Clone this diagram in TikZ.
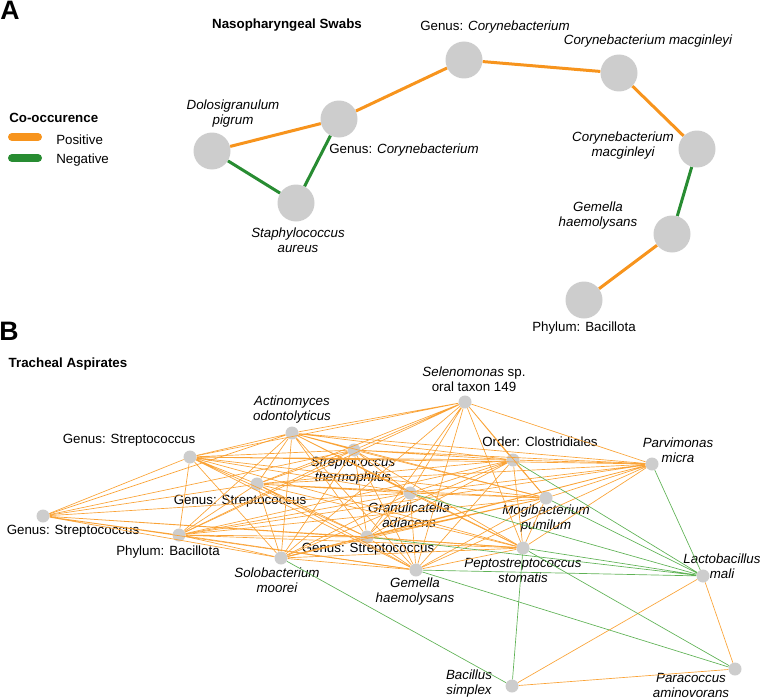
\documentclass[tikz,border=0pt]{standalone}
\usepackage{fontspec}
\setmainfont{Liberation Sans}
\definecolor{orA}{RGB}{247,148,29}
\definecolor{grA}{RGB}{40,140,50}
\definecolor{orB}{RGB}{250,163,55}
\definecolor{grB}{RGB}{95,178,85}
\definecolor{dotgray}{RGB}{205,205,205}
\tikzset{
  bigdot/.style={circle, fill=dotgray, minimum size=27.75pt, inner sep=0pt},
  smalldot/.style={circle, fill=dotgray, minimum size=9.75pt, inner sep=0pt},
  lab/.style={font=\fontsize{10}{11.25}\selectfont\itshape, align=center, inner sep=0pt},
  labr/.style={font=\fontsize{10}{11.25}\selectfont, align=center, inner sep=0pt},
  ttl/.style={font=\fontsize{10}{12}\selectfont\bfseries, inner sep=0pt},
  panel/.style={font=\fontsize{20}{20}\selectfont\bfseries, inner sep=0pt},
  posA/.style={draw=orA, line width=2.25pt},
  negA/.style={draw=grA, line width=2.25pt},
  posB/.style={draw=orB, line width=0.5pt},
  negB/.style={draw=grB, line width=0.5pt}
}
\begin{document}
\begin{tikzpicture}[x=0.75pt, y=-0.75pt]
\useasboundingbox (0,0) rectangle (760,699);

% panel A
\node[panel] (pa) at (10,10) {A};
\node[ttl] (tA) at (287,25) {Nasopharyngeal Swabs};
\node[ttl, anchor=west] (leg) at (9,118) {Co-occurence};
\coordinate (lp1) at (12,137);
\coordinate (lp2) at (38,137);
\coordinate (ln1) at (12,158);
\coordinate (ln2) at (38,158);
\draw[orA, line width=6pt, line cap=round] (lp1) -- (lp2);
\draw[grA, line width=6pt, line cap=round] (ln1) -- (ln2);
\node[labr, anchor=west] (lpos) at (56,140) {Positive};
\node[labr, anchor=west] (lneg) at (56,160) {Negative};

\node[bigdot] (dol) at (212,151) {};
\node[bigdot] (cor1) at (339,119) {};
\node[bigdot] (sta) at (296,203) {};
\node[bigdot] (cor2) at (464,60) {};
\node[bigdot] (mac1) at (619,73) {};
\node[bigdot] (mac2) at (697,149) {};
\node[bigdot] (gemA) at (672,234) {};
\node[bigdot] (bacA) at (584,300) {};

\node[lab] (ldol) at (233,114) {Dolosigranulum\\pigrum};
\node[labr, anchor=west] (lcor1) at (329,150) {Genus: \textit{Corynebacterium}};
\node[lab] (lsta) at (298,240) {Staphylococcus\\aureus};
\node[labr] (lcor2) at (495,27) {Genus: \textit{Corynebacterium}};
\node[lab] (lmac1) at (648,41) {Corynebacterium macginleyi};
\node[lab] (lmac2) at (623,146) {Corynebacterium\\macginleyi};
\node[lab] (lgemA) at (598,216) {Gemella\\haemolysans};
\node[labr] (lbacA) at (584,328) {Phylum: Bacillota};

\path[posA] (dol) -- (cor1);
\path[negA] (dol) -- (sta);
\path[negA] (sta) -- (cor1);
\path[posA] (cor1) -- (cor2);
\path[posA] (cor2) -- (mac1);
\path[posA] (mac1) -- (mac2);
\path[negA] (mac2) -- (gemA);
\path[posA] (gemA) -- (bacA);

% panel B
\node[panel] (pb) at (9,331) {B};
\node[ttl] (tB) at (68,364) {Tracheal Aspirates};

\node[smalldot] (sel) at (465,402) {};
\node[smalldot] (act) at (292,433) {};
\node[smalldot] (gs1) at (190,457) {};
\node[smalldot] (sth) at (354,450) {};
\node[smalldot] (clo) at (513,460) {};
\node[smalldot] (par) at (652,464) {};
\node[smalldot] (gs2) at (257,484) {};
\node[smalldot] (gra) at (410,493) {};
\node[smalldot] (mog) at (546,498) {};
\node[smalldot] (gs3) at (43,516) {};
\node[smalldot] (bac) at (179,535) {};
\node[smalldot] (gs4) at (367,537) {};
\node[smalldot] (sol) at (281,558) {};
\node[smalldot] (pep) at (523,548) {};
\node[smalldot] (gem) at (416,570) {};
\node[smalldot] (lac) at (703,576) {};
\node[smalldot] (pco) at (735,669) {};
\node[smalldot] (bsi) at (512,686) {};

\node[labr] (lsel) at (474,379) {\textit{Selenomonas} sp.\\oral taxon 149};
\node[lab] (lact) at (292,410) {Actinomyces\\odontolyticus};
\node[labr] (lgs1) at (129,440) {Genus: Streptococcus};
\node[lab] (lsth) at (353,471) {Streptococcus\\thermophilus};
\node[labr] (lclo) at (540,442) {Order: Clostridiales};
\node[lab] (lpar) at (678,450) {Parvimonas\\micra};
\node[labr] (lgs2) at (240,501) {Genus: Streptococcus};
\node[lab] (lgra) at (409,515) {Granulicatella\\adiacens};
\node[lab] (lmog) at (546,519) {Mogibacterium\\pumilum};
\node[labr] (lgs3) at (73,531) {Genus: Streptococcus};
\node[labr] (lbac) at (168,552) {Phylum: Bacillota};
\node[labr] (lgs4) at (368,549) {Genus: Streptococcus};
\node[lab] (lsol) at (277,580) {Solobacterium\\moorei};
\node[lab] (lpep) at (523,570) {Peptostreptococcus\\stomatis};
\node[lab] (lgem) at (415,592) {Gemella\\haemolysans};
\node[lab] (llac) at (722,566) {Lactobacillus\\mali};
\node[lab] (lpco) at (691,685) {Paracoccus\\aminovorans};
\node[lab] (lbsi) at (469,684) {Bacillus\\simplex};

% positive links
\path[posB] (sel) -- (act) (sel) -- (gs1) (sel) -- (sth) (sel) -- (clo) (sel) -- (par)
  (sel) -- (gs2) (sel) -- (gra) (sel) -- (mog) (sel) -- (bac) (sel) -- (gs4)
  (sel) -- (sol) (sel) -- (pep) (sel) -- (gem);
\path[posB] (act) -- (gs1) (act) -- (sth) (act) -- (clo) (act) -- (par) (act) -- (gs2)
  (act) -- (gra) (act) -- (mog) (act) -- (gs3) (act) -- (bac) (act) -- (gs4)
  (act) -- (sol) (act) -- (pep) (act) -- (gem);
\path[posB] (gs1) -- (sth) (gs1) -- (clo) (gs1) -- (par) (gs1) -- (gs2) (gs1) -- (gra)
  (gs1) -- (mog) (gs1) -- (gs3) (gs1) -- (bac) (gs1) -- (gs4) (gs1) -- (sol)
  (gs1) -- (pep) (gs1) -- (gem);
\path[posB] (sth) -- (clo) (sth) -- (par) (sth) -- (gs2) (sth) -- (gra) (sth) -- (mog)
  (sth) -- (gs3) (sth) -- (bac) (sth) -- (gs4) (sth) -- (sol) (sth) -- (pep)
  (sth) -- (gem);
\path[posB] (clo) -- (par) (clo) -- (gs2) (clo) -- (gra) (clo) -- (mog) (clo) -- (bac)
  (clo) -- (gs4) (clo) -- (sol) (clo) -- (pep) (clo) -- (gem);
\path[posB] (par) -- (gs2) (par) -- (gra) (par) -- (mog) (par) -- (bac) (par) -- (gs4)
  (par) -- (sol) (par) -- (pep) (par) -- (gem);
\path[posB] (gs2) -- (gra) (gs2) -- (mog) (gs2) -- (gs3) (gs2) -- (bac) (gs2) -- (gs4)
  (gs2) -- (sol) (gs2) -- (pep) (gs2) -- (gem);
\path[posB] (gra) -- (mog) (gra) -- (gs3) (gra) -- (bac) (gra) -- (gs4) (gra) -- (sol)
  (gra) -- (pep) (gra) -- (gem);
\path[posB] (mog) -- (bac) (mog) -- (gs4) (mog) -- (sol) (mog) -- (pep) (mog) -- (gem);
\path[posB] (gs3) -- (bac) (gs3) -- (gs4) (gs3) -- (sol) (gs3) -- (pep) (gs3) -- (gem);
\path[posB] (bac) -- (gs4) (bac) -- (sol) (bac) -- (pep) (bac) -- (gem);
\path[posB] (gs4) -- (sol) (gs4) -- (pep) (gs4) -- (gem);
\path[posB] (sol) -- (pep) (sol) -- (gem) (pep) -- (gem);
\path[posB] (lac) -- (bsi) (lac) -- (pco) (pco) -- (bsi);

% negative links
\path[negB] (clo) -- (lac) (mog) -- (lac) (par) -- (lac) (gra) -- (lac);
\path[negB] (gs4) -- (lac) (gem) -- (lac) (pep) -- (lac);
\path[negB] (pep) -- (pco) (gem) -- (pco) (pep) -- (bsi) (sol) -- (bsi);
\end{tikzpicture}
\end{document}
